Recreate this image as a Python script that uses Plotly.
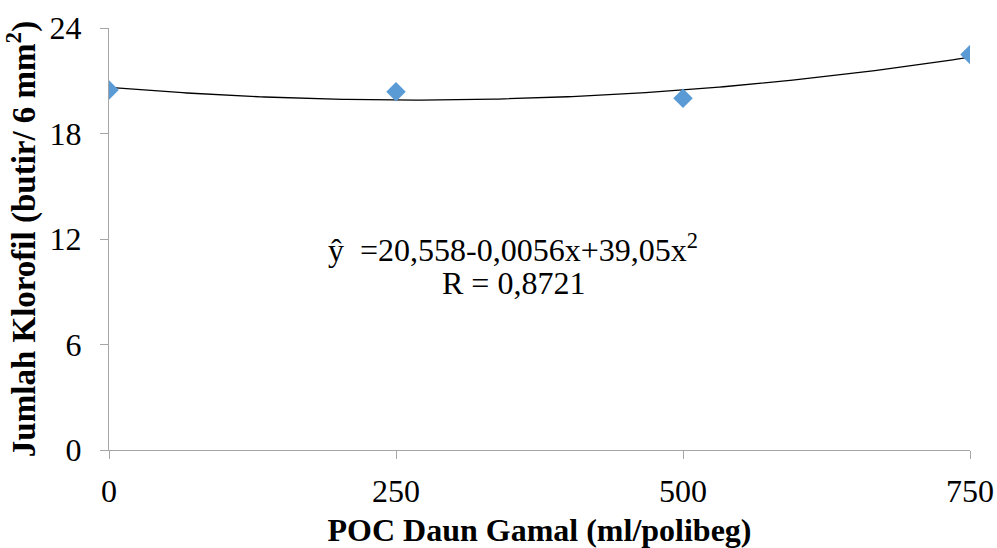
import numpy as np
import plotly.graph_objects as go

# Data
dose = [0, 250, 500, 750]
klorofil = [20.47, 20.38, 20.00, 22.50]
x_ticks = [0, 250, 500, 750]
y_ticks = [0, 6, 12, 18, 24]

# Quadratic trendline fitted from the data
coef = np.polyfit(dose, klorofil, 2)
xs = np.linspace(0, 750, 200)
ys = np.polyval(coef, xs)

FONT = "Times New Roman, Liberation Serif, Tinos, serif"

fig = go.Figure()
fig.add_trace(go.Scatter(x=xs, y=ys, mode="lines",
                         line=dict(color="black", width=1.3),
                         hoverinfo="skip", showlegend=False))
fig.add_trace(go.Scatter(x=dose, y=klorofil, mode="markers",
                         marker=dict(symbol="diamond", size=15, color="#5B9BD5"),
                         showlegend=False))

axis_common = dict(showgrid=False, zeroline=False, showline=True, automargin=False,
                   ticklabeloverflow="allow",
                   linecolor="#A6A6A6", linewidth=1.3,
                   ticks="outside", ticklen=8, tickcolor="#A6A6A6", tickwidth=1.3,
                   tickfont=dict(family=FONT, size=32, color="black"))

W, H = 997, 548
L, R, T, B = 109, 27, 28, 98
fig.update_layout(
    width=W, height=H,
    margin=dict(l=L, r=R, t=T, b=B),
    plot_bgcolor="white", paper_bgcolor="white",
    xaxis=dict(range=[0, 750], tickvals=x_ticks, ticklabelstandoff=4,
               title=dict(text="<b>POC Daun Gamal (ml/polibeg)</b>",
                          font=dict(family=FONT, size=32, color="black"),
                          standoff=12),
               **axis_common),
    yaxis=dict(range=[0, 24], tickvals=y_ticks, ticklabelstandoff=12,
               title=dict(text="<b>Jumlah Klorofil (butir/ 6 mm<sup>2</sup>)</b>",
                          font=dict(family=FONT, size=33, color="black"),
                          standoff=4),
               **axis_common),
)
plot_w = W - L - R
plot_h = H - T - B
eq_lines = ["ŷ  =20,558-0,0056x+39,05x<sup>2</sup>", "R = 0,8721"]
eq_y = [248, 283]
for txt, yy in zip(eq_lines, eq_y):
    fig.add_annotation(
        x=(513 - L) / plot_w, y=(T + plot_h - yy) / plot_h, xref="paper", yref="paper",
        text=txt, showarrow=False, align="center",
        font=dict(family=FONT, size=32, color="black"))

# remove the default 8px page margin so the figure fills the window exactly
fig.write_html("out.html", config={"displayModeBar": False},
               post_script="document.body.style.margin='0';document.body.style.overflow='hidden';")
